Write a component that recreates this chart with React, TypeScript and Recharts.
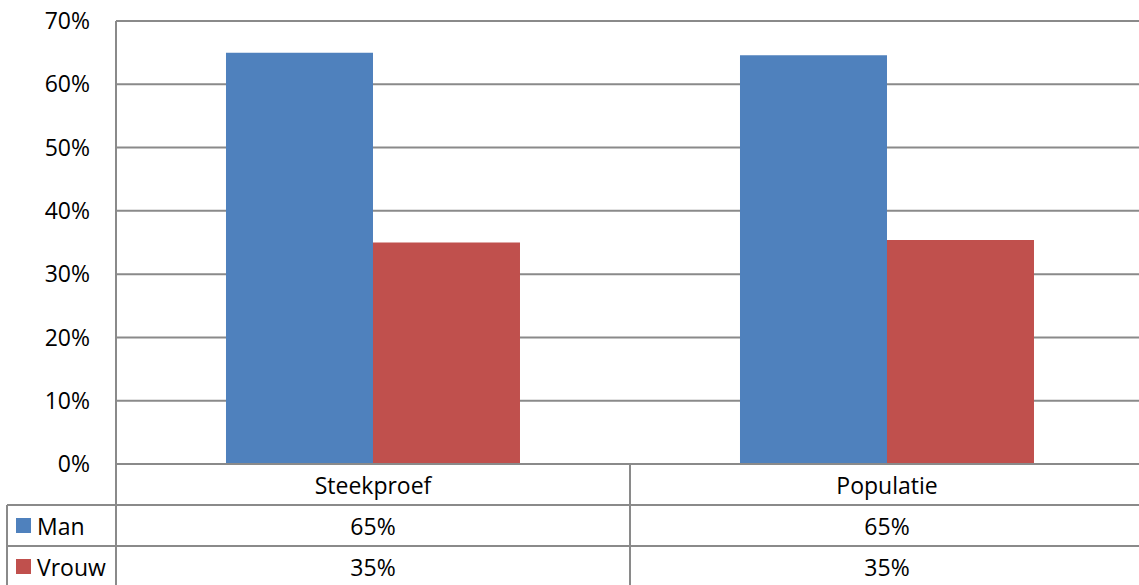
import { BarChart, Bar, XAxis, YAxis, CartesianGrid } from "recharts";

const categories = ["Steekproef", "Populatie"];
const manValues = [65.0, 64.6];
const vrouwValues = [35.0, 35.4];
const yTicks = [0, 10, 20, 30, 40, 50, 60, 70];

const seriesNames = ["Man", "Vrouw"];
const seriesColors = ["#4F81BD", "#C0504D"];
const seriesValues = [manValues, vrouwValues];

const data = categories.map((name, i) => ({ name, Man: manValues[i], Vrouw: vrouwValues[i] }));

const CHART_W = 1144;
const CHART_H = 590;
const Y_W = 116;
const X_H = 126;
const ROW_H = 41;
const LEGEND_LEFT = 7;
const LINE = "#8a8a8a";
const FONT = 23;

const BAND = (CHART_W - Y_W) / categories.length;

function TableTick(props: { x?: number; y?: number; index?: number; payload?: { value: string } }) {
  const { x = 0, y = 0, index = 0, payload } = props;
  const left = x - BAND / 2;
  const right = x + BAND / 2;
  const bottom = y + ROW_H * (seriesNames.length + 1);
  return (
    <g>
      {/* vertical cell borders */}
      <line x1={left} y1={y} x2={left} y2={bottom} stroke={LINE} strokeWidth={2} />
      <line x1={right} y1={y} x2={right} y2={bottom} stroke={LINE} strokeWidth={2} />
      <text x={x} y={y + ROW_H / 2} textAnchor="middle" dominantBaseline="central" fontSize={FONT} fill="#000">
        {payload?.value}
      </text>
      {seriesNames.map((s, r) => {
        const top = y + ROW_H * (r + 1);
        const v = seriesValues[r][index];
        return (
          <g key={s}>
            <line x1={index === 0 ? LEGEND_LEFT : left} y1={top} x2={right} y2={top} stroke={LINE} strokeWidth={2} />
            <text x={x} y={top + ROW_H / 2} textAnchor="middle" dominantBaseline="central" fontSize={FONT} fill="#000">
              {`${Math.round(v)}%`}
            </text>
            {index === 0 && (
              <g>
                <rect x={16} y={top + ROW_H / 2 - 7.5} width={15} height={15} fill={seriesColors[r]} />
                <text x={37} y={top + ROW_H / 2} dominantBaseline="central" fontSize={FONT} fill="#000">
                  {s}
                </text>
              </g>
            )}
          </g>
        );
      })}
      {index === 0 && (
        <line x1={LEGEND_LEFT} y1={y + ROW_H} x2={LEGEND_LEFT} y2={bottom} stroke={LINE} strokeWidth={2} />
      )}
    </g>
  );
}

export default function App() {
  return (
    <div style={{ position: "fixed", left: 0, top: 0, fontFamily: "'Open Sans', sans-serif", background: "#fff" }}>
      <BarChart
        width={CHART_W}
        height={CHART_H}
        data={data}
        margin={{ top: 21, right: 0, bottom: 0, left: 0 }}
        barCategoryGap="21.4%"
        barGap={0}
      >
        <CartesianGrid vertical={false} stroke={LINE} strokeWidth={2} />
        <XAxis
          dataKey="name"
          height={X_H}
          axisLine={{ stroke: LINE, strokeWidth: 2 }}
          tickLine={false}
          tickSize={0}
          tickMargin={0}
          interval={0}
          tick={(p: any) => <TableTick key={p.index} {...p} />}
        />
        <YAxis
          width={Y_W}
          domain={[0, 70]}
          ticks={yTicks}
          tickFormatter={(v) => `${v}%`}
          axisLine={{ stroke: LINE, strokeWidth: 2 }}
          tickLine={false}
          tickSize={0}
          tickMargin={26}
          tick={{ fontSize: FONT, fill: "#000" }}
        />
        <Bar dataKey="Man" fill={seriesColors[0]} isAnimationActive={false} />
        <Bar dataKey="Vrouw" fill={seriesColors[1]} isAnimationActive={false} />
      </BarChart>
    </div>
  );
}
